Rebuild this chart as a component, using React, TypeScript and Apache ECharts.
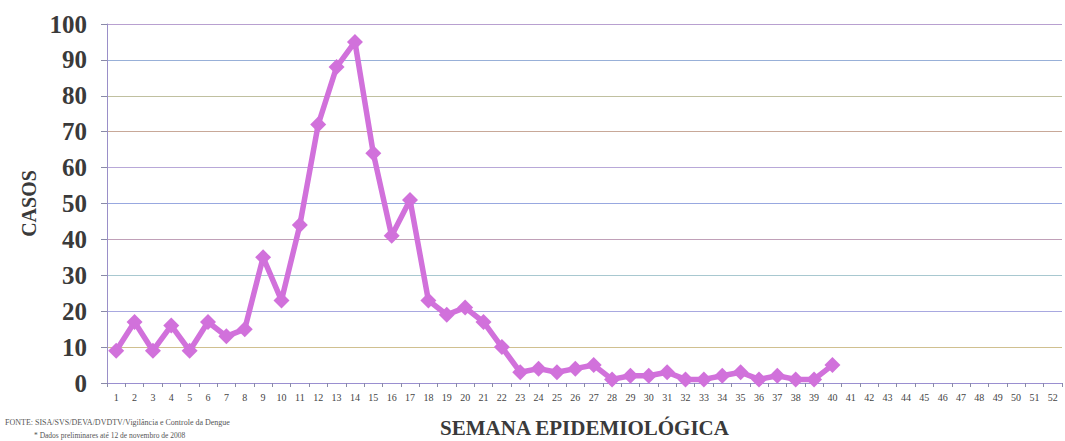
import React, { useEffect, useRef } from "react";
import * as echarts from "echarts";

const semanas: string[] = Array.from({ length: 52 }, (_, i) => String(i + 1));
const casos: (number | null)[] = [
  9, 17, 9, 16, 9, 17, 13, 15, 35, 23,
  44, 72, 88, 95, 64, 41, 51, 23, 19, 21,
  17, 10, 3, 4, 3, 4, 5, 1, 2, 2,
  3, 1, 1, 2, 3, 1, 2, 1, 1, 5,
];
const yTicks = { min: 0, max: 100, interval: 10 };
const yTitle = "CASOS";
const xTitle = "SEMANA EPIDEMIOLÓGICA";
const fonte = "FONTE: SISA/SVS/DEVA/DVDTV/Vigilância e Controle da Dengue";
const nota = "* Dados preliminares até 12 de novembro de 2008";

const serif = "'Liberation Serif', 'DejaVu Serif', serif";

export default function App() {
  const ref = useRef<HTMLDivElement>(null);
  useEffect(() => {
    document.body.style.margin = "0";
    if (!ref.current) return;
    const chart = echarts.init(ref.current, null, { renderer: "svg" });
    chart.setOption({
      animation: false,
      backgroundColor: "#ffffff",
      grid: {
        left: 107,
        right: 3,
        top: 24,
        bottom: 58,
        containLabel: false,
        outerBoundsMode: "none",
      },
      xAxis: {
        type: "category",
        data: semanas,
        boundaryGap: true,
        axisLine: { lineStyle: { color: "#9a8fd0", width: 1 } },
        axisTick: { show: true, length: 4, lineStyle: { color: "#8a8aa8" } },
        axisLabel: {
          interval: 0,
          fontFamily: serif,
          fontSize: 10,
          color: "#444444",
          margin: 9,
        },
        name: xTitle,
        nameLocation: "middle",
        nameGap: 34,
        nameTextStyle: {
          fontFamily: serif,
          fontSize: 21,
          fontWeight: "bold",
          color: "#3a3a3a",
        },
      },
      yAxis: {
        type: "value",
        min: yTicks.min,
        max: yTicks.max,
        interval: yTicks.interval,
        axisLine: { show: true, lineStyle: { color: "#9a8fc8", width: 1 } },
        axisTick: { show: true, length: 6, lineStyle: { color: "#8a8aa8" } },
        axisLabel: {
          fontFamily: serif,
          fontSize: 25,
          fontWeight: "bold",
          color: "#3a3a3a",
          margin: 20,
        },
        splitLine: {
          show: true,
          lineStyle: {
            width: 1,
            color: [
              "#9a8fd0",
              "#d0c090",
              "#a8a8e0",
              "#a8c8d0",
              "#c0a0b8",
              "#98a8e0",
              "#b8a8d8",
              "#c8a898",
              "#c0c0a0",
              "#98b0d8",
              "#b8a0d0",
            ],
          },
        },
        name: yTitle,
        nameLocation: "middle",
        nameGap: 67,
        nameRotate: 90,
        nameTextStyle: {
          fontFamily: serif,
          fontSize: 20,
          fontWeight: "bold",
          color: "#3a3a3a",
        },
      },
      series: [
        {
          type: "line",
          data: casos,
          symbol: "diamond",
          symbolSize: 16,
          lineStyle: { color: "#d171db", width: 5.5 },
          itemStyle: { color: "#d171db" },
        },
      ],
      graphic: [
        {
          type: "text",
          left: 5,
          top: 418,
          style: { text: fonte, font: `8px ${serif}`, fill: "#555555" },
        },
        {
          type: "text",
          left: 34,
          top: 431,
          style: { text: nota, font: `7.5px ${serif}`, fill: "#555555" },
        },
      ],
    });
    return () => chart.dispose();
  }, []);
  return <div ref={ref} style={{ width: 1065, height: 441 }} />;
}
